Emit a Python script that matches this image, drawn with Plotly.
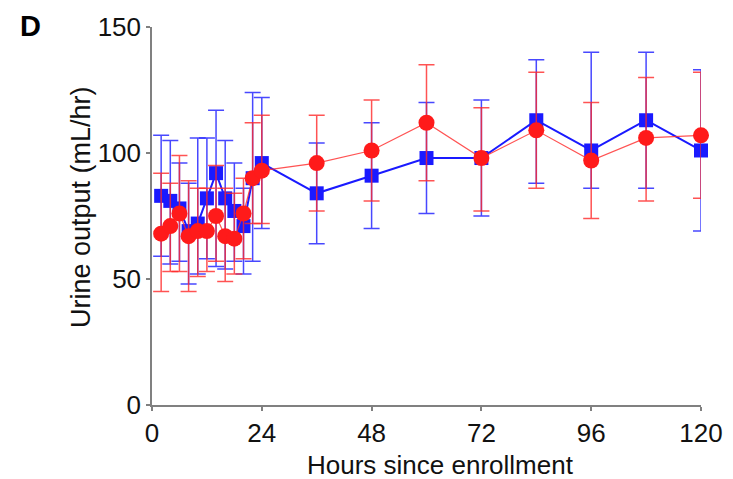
import plotly.graph_objects as go

hours = [2, 4, 6, 8, 10, 12, 14, 16, 18, 20, 22, 24, 36, 48, 60, 72, 84, 96, 108, 120]

blue_mean = [83, 81, 78, 69, 72, 82, 92, 82, 77, 71, 90, 96, 84, 91, 98, 98, 113, 101, 113, 101]
blue_upper = [107, 105, 96, 88, 106, 106, 117, 105, 96, 86, 124, 122, 104, 112, 120, 121, 137, 140, 140, 133]
blue_lower = [59, 56, 57, 48, 52, 58, 55, 54, 57, 52, 57, 70, 64, 70, 76, 75, 88, 86, 86, 69]

red_mean = [68, 71, 76, 67, 69, 69, 75, 67, 66, 76, 90, 93, 96, 101, 112, 98, 109, 97, 106, 107]
red_upper = [92, 88, 99, 89, 86, 86, 95, 86, 84, 90, 112, 115, 115, 121, 135, 118, 132, 120, 130, 132]
red_lower = [45, 53, 53, 45, 51, 53, 57, 49, 52, 58, 72, 72, 77, 81, 89, 77, 86, 74, 81, 82]

x_ticks = [0, 24, 48, 72, 96, 120]
y_ticks = [0, 50, 100, 150]

BLUE = "#1a1aff"
RED = "#ff1a1a"
FONT = "Liberation Sans, Arial, sans-serif"

W, H = 733, 479
ML, MR, MT, MB = 152, 32, 27, 74
PW, PH = W - ML - MR, H - MT - MB


def px_x(px):
    return (px - ML) / PW


def px_y(py):
    return 1 - (py - MT) / PH


fig = go.Figure()

fig.add_trace(go.Scatter(
    x=hours, y=blue_mean, mode="lines+markers",
    line=dict(color=BLUE, width=2),
    marker=dict(symbol="square", size=14, color=BLUE),
    error_y=dict(type="data", symmetric=False,
                 array=[u - m for u, m in zip(blue_upper, blue_mean)],
                 arrayminus=[m - l for m, l in zip(blue_mean, blue_lower)],
                 color="rgba(40,40,255,0.85)", thickness=1.5, width=8),
    cliponaxis=False, showlegend=False,
))

fig.add_trace(go.Scatter(
    x=hours, y=red_mean, mode="lines+markers",
    line=dict(color="rgba(255,40,40,0.8)", width=1.2),
    marker=dict(symbol="circle", size=16, color=RED),
    error_y=dict(type="data", symmetric=False,
                 array=[u - m for u, m in zip(red_upper, red_mean)],
                 arrayminus=[m - l for m, l in zip(red_mean, red_lower)],
                 color="rgba(255,40,40,0.8)", thickness=1.5, width=8),
    cliponaxis=False, showlegend=False,
))

axis_common = dict(
    showgrid=False, zeroline=False, showline=True, linecolor="#808080", linewidth=1.5,
    ticks="outside", ticklen=4, tickcolor="#808080", tickwidth=1.5, automargin=False,
    tickfont=dict(family=FONT, size=26, color="#111111"),
)

fig.update_layout(
    width=W, height=H,
    margin=dict(l=ML, r=MR, t=MT, b=MB),
    paper_bgcolor="white", plot_bgcolor="white",
    xaxis=dict(range=[0, 120], tickvals=x_ticks, **axis_common),
    yaxis=dict(range=[0, 150], tickvals=y_ticks, **axis_common),
    annotations=[
        dict(text="<b>D</b>", x=px_x(18), y=px_y(8), xref="paper", yref="paper",
             showarrow=False, xanchor="left", yanchor="top",
             font=dict(family=FONT, size=29, color="#000000")),
        dict(text="Hours since enrollment", x=px_x(440), y=px_y(465), xref="paper", yref="paper",
             showarrow=False, xanchor="center", yanchor="middle",
             font=dict(family=FONT, size=26, color="#111111")),
        dict(text="Urine output (mL/hr)", x=px_x(81), y=px_y(207), xref="paper", yref="paper",
             showarrow=False, xanchor="center", yanchor="middle", textangle=-90,
             font=dict(family=FONT, size=27, color="#111111")),
    ],
)

fig.write_html("out.html")
